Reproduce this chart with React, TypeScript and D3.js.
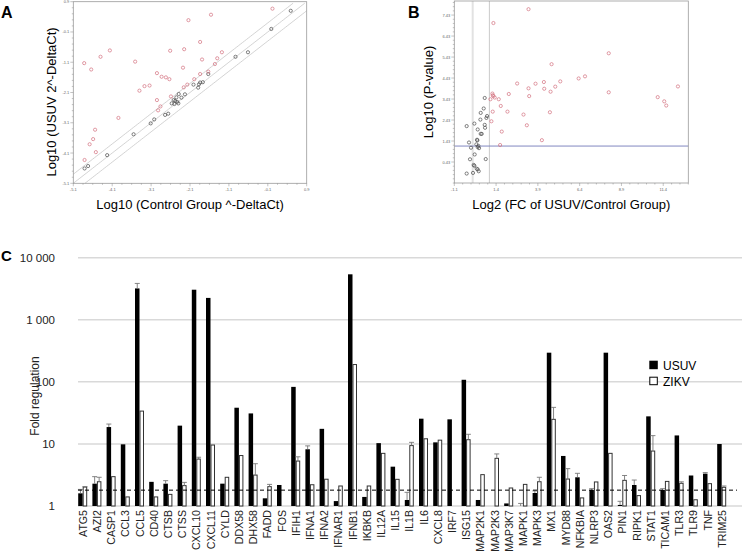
import * as d3 from 'd3';

// ---- Panel A: Log10 scatter (control vs USUV)
const aUp: [number, number][] = [
  [0.02, 0.67], [-1.56, 0.47], [-2.14, 0.29], [-1.84, -0.43], [-4.16, -0.71], [-2.61, -0.72],
  [-2.25, -0.67], [-4.4, -0.92], [-1.28, -0.77], [-4.82, -1.13], [-4.64, -1.34], [-3.51, -1.08],
  [-1.79, -1.01], [-1.4, -0.97], [-1.46, -1.16], [-2.28, -1.28], [-2.95, -1.46], [-2.83, -1.58],
  [-2.72, -1.6], [-2.63, -1.66], [-1.84, -1.49], [-1.99, -1.66], [-2.17, -1.84], [-2.26, -1.93],
  [-3.14, -1.87], [-3.27, -1.89], [-3.4, -2.04], [-2.59, -2.23], [-2.95, -2.35], [-2.86, -2.56],
  [-2.92, -2.69], [-3.94, -2.94], [-4.54, -3.33], [-4.59, -3.64], [-4.68, -3.81], [-4.52, -4.07],
  [-4.81, -4.33], [-1.63, -1.41],
];
const aNs: [number, number][] = [
  [0.49, 0.6], [-0.01, 0.0], [-0.61, -0.77], [-0.93, -0.92], [-1.63, -1.49], [-1.77, -1.76],
  [-1.84, -1.77], [-1.87, -1.83], [-2.01, -1.84], [-1.89, -1.94], [-2.23, -2.16], [-2.32, -2.27],
  [-2.39, -2.15], [-2.45, -2.26], [-2.52, -2.35], [-2.48, -2.38], [-2.43, -2.41], [-2.4, -2.46],
  [-2.57, -2.46], [-2.5, -2.48], [-2.66, -2.8], [-2.74, -2.84], [-3.02, -2.99], [-3.11, -3.12],
  [-3.55, -3.48], [-4.23, -4.17], [-4.72, -4.53], [-4.81, -4.61],
];
const aTicks = [-5.1, -4.1, -3.1, -2.1, -1.1, -0.1, 0.9];

// ---- Panel B: volcano
const bUp: [number, number][] = [
  [3.34, 7.71], [1.24, 7.05], [8.14, 5.61], [4.72, 5.09], [2.66, 4.17], [3.76, 4.16], [4.26, 4.24],
  [5.24, 4.27], [6.34, 4.41], [6.72, 4.51], [3.34, 3.94], [4.28, 3.92], [4.94, 4.02], [4.66, 3.78],
  [8.14, 3.75], [12.28, 4.03], [11.07, 3.52], [11.46, 3.32], [11.58, 3.12], [1.18, 3.69],
  [1.2, 3.61], [1.24, 3.57], [1.32, 3.5], [1.06, 3.42], [1.56, 3.42], [2.16, 3.67], [1.68, 3.1],
  [1.2, 2.83], [2.08, 2.83], [3.04, 2.69], [1.12, 2.37], [3.24, 2.18], [1.74, 1.88], [4.14, 1.47],
  [4.62, 2.8], [1.64, 1.24], [3.38, 3.57],
];
const bNs: [number, number][] = [
  [0.72, 3.48], [0.66, 2.98], [0.48, 2.77], [0.86, 2.62], [0.82, 2.53], [0.46, 2.45], [0.1, 2.26],
  [0.72, 2.2], [0.74, 2.06], [-0.36, 2.14], [0.3, 1.98], [0.48, 1.77], [0.54, 1.77], [0.26, 1.49],
  [0.28, 1.46], [-0.22, 1.36], [0.22, 1.27], [0.34, 1.2], [0.3, 1.14], [0.38, 1.09], [-0.1, 1.11],
  [0.12, 0.79], [-0.16, 0.56], [0.78, 0.57], [0.06, 0.29], [0.1, 0.25], [0.24, 0.11], [0.3, 0.08],
  [0.36, -0.01], [0.02, -0.09], [-0.36, -0.12],
];
const bXTicks = [-1.1, 1.4, 3.9, 6.4, 8.9, 11.4];
const bYTicks = [0.43, 1.43, 2.43, 3.43, 4.43, 5.43, 6.43, 7.43];

// ---- Panel C: fold regulation
const genes = [
  'ATG5', 'AZI2', 'CASP1', 'CCL3', 'CCL5', 'CD40', 'CTSB', 'CTSS', 'CXCL10', 'CXCL11', 'CYLD',
  'DDX58', 'DHX58', 'FADD', 'FOS', 'IFIH1', 'IFNA1', 'IFNA2', 'IFNAR1', 'IFNB1', 'IKBKB', 'IL12A',
  'IL15', 'IL1B', 'IL6', 'CXCL8', 'IRF7', 'ISG15', 'MAP2K1', 'MAP2K3', 'MAP3K7', 'MAPK1', 'MAPK3',
  'MX1', 'MYD88', 'NFKBIA', 'NLRP3', 'OAS2', 'PIN1', 'RIPK1', 'STAT1', 'TICAM1', 'TLR3', 'TLR9',
  'TNF', 'TRIM25',
];
const usuv = [
  1.6, 2.29, 18.7, 9.85, 3200, 2.45, 2.29, 19.7, 3050, 2250, 2.29, 38.3, 31, 1.33, 2.18, 83, 8.2,
  17.5, 1.2, 5400, 1.4, 10.3, 4.3, 1.25, 25.5, 10.6, 24.9, 108, 1.25, 1.0, 1.1, 1.0, 1.62, 295,
  6.4, 2.9, 1.81, 295, 1.04, 2.18, 27.8, 1.81, 13.7, 3.1, 3.32, 9.97,
];
const zikv = [
  2.02, 2.46, 2.97, 1.4, 33.8, 1.4, 1.54, 2.13, 5.7, 9.6, 2.9, 6.5, 3.15, 2.05, 1.0, 5.3, 2.2,
  2.7, 2.1, 190, 2.1, 7.05, 2.69, 9.4, 12.1, 11.5, 1.0, 11.7, 3.2, 5.86, 1.95, 2.23, 2.46, 24.9,
  2.72, 1.35, 2.44, 7.05, 2.59, 1.47, 7.68, 2.49, 2.32, 1.26, 2.29, 2.0,
];
const usuvErr: (number | null)[] = [
  1.85, 2.97, 20.9, null, 3850, null, 2.56, null, null, null, null, null, null, null, null, null, 9.3,
  null, null, null, null, null, null, 1.66, null, null, null, null, null, null, null, 1.1, 1.75, null,
  null, 3.36, 1.9, null, 1.19, 2.62, null, 1.9, null, null, 3.45, null,
];
const zikvErr: (number | null)[] = [
  2.05, 2.9, null, null, null, null, null, 2.4, 6.1, null, null, null, 4.8, 2.23, null, 6.2, null,
  null, null, null, null, null, null, 10.6, null, null, null, 14.3, null, 6.9, null, null, 2.9, 38.8,
  4.0, null, null, null, 3.1, null, 13.6, null, 2.45, null, null, 2.1,
];
const cYTicks = [1, 10, 100, 1000, 10000];

const FONT = '"Liberation Sans", Arial, sans-serif';
const RED = '#d2707e';
const DARK = '#4a4a4a';

function Ticks({ x0, y1, xs, ys, xTicks, yTicks, xStep, yStep, xLabels, yLabels }: any) {
  const out: JSX.Element[] = [];
  const [xd0, xd1] = xs.domain();
  const [yd0, yd1] = ys.domain();
  for (let v = xd0; v <= xd1 + 1e-6; v += xStep) {
    const major = xTicks.some((t: number) => Math.abs(t - v) < 1e-3);
    out.push(<line key={'xm' + v} x1={xs(v)} x2={xs(v)} y1={y1} y2={y1 + (major ? 3 : 1.5)} stroke="#888" strokeWidth={0.5} />);
  }
  for (let v = yd0; v <= yd1 + 1e-6; v += yStep) {
    const major = yTicks.some((t: number) => Math.abs(t - v) < 1e-3);
    out.push(<line key={'ym' + v} x1={x0 - (major ? 3 : 1.5)} x2={x0} y1={ys(v)} y2={ys(v)} stroke="#888" strokeWidth={0.5} />);
  }
  xTicks.forEach((t: number, i: number) =>
    out.push(<text key={'xl' + t} x={xs(t)} y={y1 + 8} fontSize={4} fill="#666" textAnchor="middle" fontFamily={FONT}>{xLabels[i]}</text>));
  yTicks.forEach((t: number, i: number) =>
    out.push(<text key={'yl' + t} x={x0 - 4} y={ys(t) + 1.5} fontSize={4} fill="#666" textAnchor="end" fontFamily={FONT}>{yLabels[i]}</text>));
  return <g>{out}</g>;
}

function PanelA() {
  const x0 = 73.3, x1 = 306.7, y0 = 1.7, y1 = 183.3;
  const xs = d3.scaleLinear().domain([-5.1, 0.9]).range([x0, x1]);
  const ys = d3.scaleLinear().domain([-5.1, 0.9]).range([y1, y0]);
  const diag = (off: number) => {
    const pts: [number, number][] = [];
    for (const v of d3.range(-5.1, 0.91, 0.05)) {
      const y = v + off;
      if (y >= -5.1 && y <= 0.9) pts.push([xs(v), ys(y)]);
    }
    return d3.line()(pts) ?? '';
  };
  return (
    <g>
      <text x={1} y={18} fontSize={16} fontWeight="bold" fontFamily={FONT}>A</text>
      {[0.3, 0, -0.3].map((o) => <path key={o} d={diag(o)} fill="none" stroke="#c8c8c8" strokeWidth={0.8} />)}
      <rect x={x0} y={y0} width={x1 - x0} height={y1 - y0} fill="none" stroke="#9a9a9a" strokeWidth={0.8} />
      <Ticks x0={x0} y1={y1} xs={xs} ys={ys} xTicks={aTicks} yTicks={aTicks} xStep={0.25} yStep={0.2}
        xLabels={aTicks.map((t) => t.toFixed(1))} yLabels={aTicks.map((t) => t.toFixed(1))} />
      {aNs.map(([x, y], i) => <circle key={'n' + i} cx={xs(x)} cy={ys(y)} r={1.6} fill="none" stroke={DARK} strokeWidth={0.7} />)}
      {aUp.map(([x, y], i) => <circle key={'u' + i} cx={xs(x)} cy={ys(y)} r={1.6} fill="none" stroke={RED} strokeWidth={0.7} />)}
      <text transform="translate(56,102) rotate(-90)" textAnchor="middle" fontSize={13} fontFamily={FONT}>Log10 (USUV 2^-DeltaCt)</text>
      <text x={(x0 + x1) / 2} y={209} textAnchor="middle" fontSize={13} fontFamily={FONT}>Log10 (Control Group ^-DeltaCt)</text>
    </g>
  );
}

function PanelB() {
  const x0 = 454.3, x1 = 688.3, y0 = 1, y1 = 183;
  const xs = d3.scaleLinear().domain([-1.1, 12.9]).range([x0, x1]);
  const ys = d3.scaleLinear().domain([-0.57, 8.1]).range([y1, y0]);
  return (
    <g>
      <text x={408} y={18} fontSize={16} fontWeight="bold" fontFamily={FONT}>B</text>
      <line x1={xs(0)} x2={xs(0)} y1={y0} y2={y1} stroke="#e2e2e2" strokeWidth={2} />
      <line x1={xs(1)} x2={xs(1)} y1={y0} y2={y1} stroke="#c4c4c4" strokeWidth={0.9} />
      <line x1={x0} x2={x1} y1={ys(1.19)} y2={ys(1.19)} stroke="#8287c0" strokeWidth={1} />
      <rect x={x0} y={y0} width={x1 - x0} height={y1 - y0} fill="none" stroke="#9a9a9a" strokeWidth={0.8} />
      <Ticks x0={x0} y1={y1} xs={xs} ys={ys} xTicks={bXTicks} yTicks={bYTicks} xStep={0.5} yStep={0.2}
        xLabels={bXTicks.map((t) => t.toFixed(1))} yLabels={bYTicks.map((t) => t.toFixed(2))} />
      {bNs.map(([x, y], i) => <circle key={'n' + i} cx={xs(x)} cy={ys(y)} r={1.6} fill="none" stroke={DARK} strokeWidth={0.7} />)}
      {bUp.map(([x, y], i) => <circle key={'u' + i} cx={xs(x)} cy={ys(y)} r={1.6} fill="none" stroke={RED} strokeWidth={0.7} />)}
      <text transform="translate(433,92) rotate(-90)" textAnchor="middle" fontSize={13} fontFamily={FONT}>Log10 (P-value)</text>
      <text x={(x0 + x1) / 2} y={209} textAnchor="middle" fontSize={13} fontFamily={FONT}>Log2 (FC of USUV/Control Group)</text>
    </g>
  );
}

function PanelC() {
  const x = d3.scaleBand().domain(genes).range([75.6, 728.8]);
  const y = d3.scaleLog().domain([1, 10000]).range([506, 257.7]);
  const bw = 4.5;
  const fmt = (v: number) => d3.format(',')(v).replace(/,/g, ' ');
  const err = (cx: number, from: number, to: number | null, key: string) =>
    to == null ? null : (
      <g key={key}>
        <line x1={cx} x2={cx} y1={y(from)} y2={y(to)} stroke="#777" strokeWidth={0.9} />
        <line x1={cx - 2.5} x2={cx + 2.5} y1={y(to)} y2={y(to)} stroke="#777" strokeWidth={0.9} />
      </g>
    );
  return (
    <g>
      <text x={1} y={261} fontSize={15} fontWeight="bold" fontFamily={FONT}>C</text>
      {cYTicks.map((t) => (
        <g key={t}>
          <line x1={78} x2={742} y1={y(t)} y2={y(t)} stroke="#d9d9d9" strokeWidth={1.5} />
          <text x={55} y={y(t) + 4} textAnchor="end" fontSize={11.5} fill="#222" fontFamily={FONT}>{fmt(t)}</text>
        </g>
      ))}
      {genes.map((g, i) => {
        const c = (x(g) ?? 0) + x.bandwidth() / 2;
        return (
          <g key={g}>
            <rect x={c - bw} y={y(usuv[i])} width={bw} height={y(1) - y(usuv[i])} fill="#000" />
            <rect x={c + 0.5} y={y(zikv[i])} width={bw - 1} height={y(1) - y(zikv[i])} fill="#fff" stroke="#333" strokeWidth={1} />
            {err(c - bw / 2, usuv[i], usuvErr[i], 'ue')}
            {err(c + bw / 2, zikv[i], zikvErr[i], 'ze')}
            <text transform={`translate(${c + 4},510) rotate(-90)`} textAnchor="end" fontSize={10.6} fill="#222" fontFamily={FONT}>{g}</text>
          </g>
        );
      })}
      <line x1={78} x2={737} y1={y(1.8)} y2={y(1.8)} stroke="#000" strokeWidth={1} strokeDasharray="4,3" />
      <rect x={649.3} y={360.7} width={8.5} height={8.5} fill="#000" />
      <rect x={649.8} y={377.2} width={7.5} height={7.5} fill="#fff" stroke="#000" strokeWidth={1} />
      <text x={663} y={369.5} fontSize={12} fontFamily={FONT}>USUV</text>
      <text x={663} y={385.5} fontSize={12} fontFamily={FONT}>ZIKV</text>
      <text transform="translate(39,396) rotate(-90)" textAnchor="middle" fontSize={12} fill="#222" fontFamily={FONT}>Fold regulation</text>
    </g>
  );
}

export default function App() {
  return (
    <svg width={745} height={551} style={{ position: 'absolute', left: 0, top: 0, background: '#fff' }}>
      <rect width={745} height={551} fill="#fff" />
      <PanelA />
      <PanelB />
      <PanelC />
    </svg>
  );
}
